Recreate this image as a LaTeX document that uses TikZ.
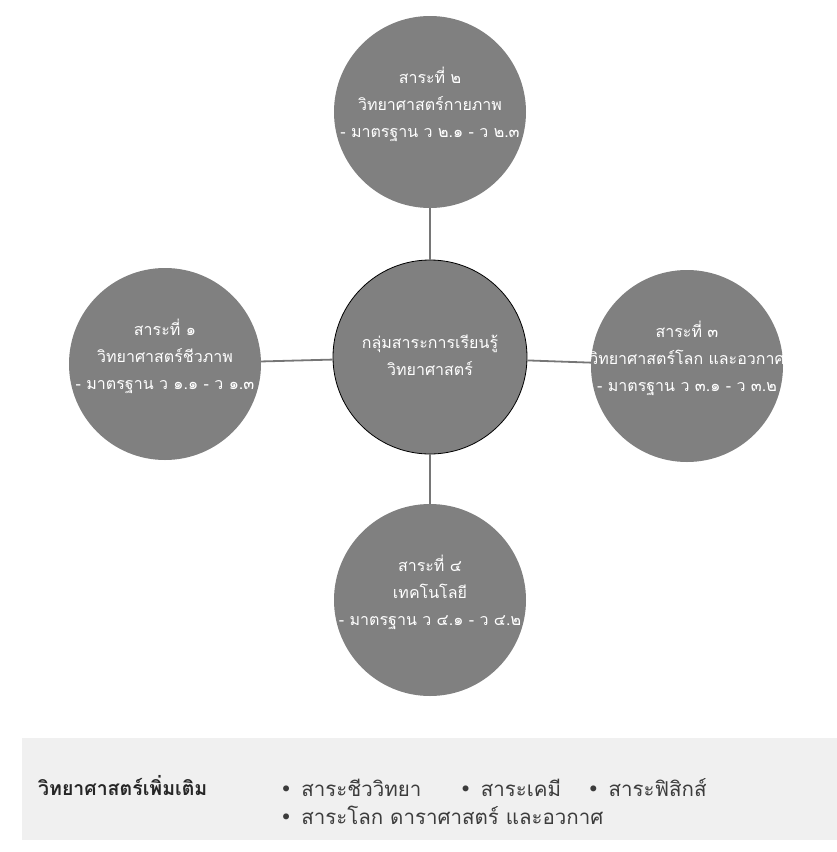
\documentclass[tikz,border=0pt]{standalone}
\usepackage{fontspec}
\usepackage{tikz}
\usetikzlibrary{positioning}
\newfontfamily\thaifont[Script=Thai]{Loma}
\newfontfamily\symfont{DejaVu Sans}
\definecolor{discgray}{RGB}{128,128,128}
\definecolor{linkgray}{RGB}{118,118,118}
\definecolor{panelgray}{RGB}{240,240,240}
\definecolor{inkgray}{RGB}{60,60,60}

\begin{document}
\begin{tikzpicture}[x=1pt, y=-1pt,
  disc/.style={circle, fill=discgray, minimum size=192pt, inner sep=-30pt, align=center, text=white, text depth=20pt, font=\thaifont\fontsize{16}{27}\selectfont},
  hub/.style={disc, draw=black, line width=0.8pt, minimum size=194pt, inner sep=0pt, text depth=4pt},
  link/.style={draw=linkgray, line width=1.8pt},
  item/.style={font=\thaifont\fontsize{20.5}{24}\selectfont, text=inkgray, inner sep=0pt, anchor=west}]
  \useasboundingbox (0,0) rectangle (837,852);
  \fill[panelgray] (22,738) rectangle (837,840);
  % hub and the four strands
  \node[hub] (core) at (430,357) {กลุ่มสาระการเรียนรู้\\วิทยาศาสตร์};
  \node[disc] (s2) at (430,112) {สาระที่ ๒\\วิทยาศาสตร์กายภาพ\\- มาตรฐาน ว ๒.๑ - ว ๒.๓};
  \node[disc] (s1) at (165,364) {สาระที่ ๑\\วิทยาศาสตร์ชีวภาพ\\- มาตรฐาน ว ๑.๑ - ว ๑.๓};
  \node[disc] (s3) at (687,366) {สาระที่ ๓\\วิทยาศาสตร์โลก และอวกาศ\\- มาตรฐาน ว ๓.๑ - ว ๓.๒};
  \node[disc] (s4) at (430,600) {สาระที่ ๔\\เทคโนโลยี\\- มาตรฐาน ว ๔.๑ - ว ๔.๒};
  \draw[link] (s2) -- (core);
  \draw[link] (s1) -- (core);
  \draw[link] (s3) -- (core);
  \draw[link] (s4) -- (core);
  % extra courses panel
  \node[item, font=\thaifont\bfseries\fontsize{19.5}{24}\selectfont, text=black!85] (extra) at (38,786) {วิทยาศาสตร์เพิ่มเติม};
  \node[item] (i1) at (280,788) {{\symfont •}\hspace{9pt}สาระชีววิทยา};
  \node[item, right=38pt of i1] (i2) {{\symfont •}\hspace{9pt}สาระเคมี};
  \node[item, right=26pt of i2] (i3) {{\symfont •}\hspace{9pt}สาระฟิสิกส์};
  \node[item, below=9pt of i1.south west, anchor=north west] (i4) {{\symfont •}\hspace{9pt}สาระโลก ดาราศาสตร์ และอวกาศ};
\end{tikzpicture}
\end{document}
